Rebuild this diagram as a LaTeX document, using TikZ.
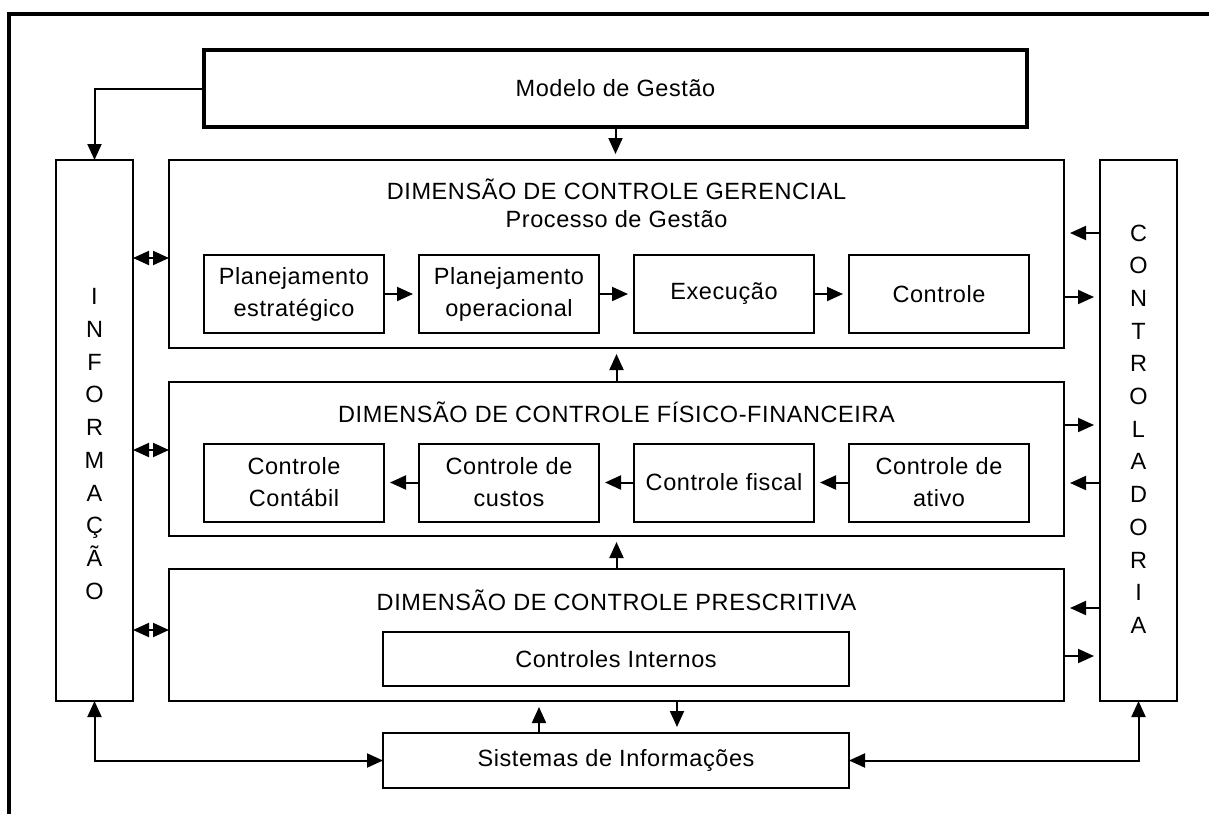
\documentclass[tikz,border=0pt]{standalone}
\usepackage{fontspec}
\setmainfont{Liberation Sans}[LetterSpace=2.5]
\usetikzlibrary{
arrows.meta,
positioning,
calc
}

\begin{document}
\begin{tikzpicture}
[x=1pt, y=-1pt,
font=\fontsize{23.5}{32}\selectfont,
block_normal/.style ={rectangle, draw, line width=2pt, fill=white, align=center, inner sep=0pt, outer sep=0pt},
block_inner/.style ={block_normal, minimum width=180pt, minimum height=78pt},
block_dim/.style ={block_normal, minimum width=895pt},
block_side/.style ={block_normal, minimum width=77pt, minimum height=541pt},
block_top/.style ={block_normal, line width=3.5pt, minimum width=823pt, minimum height=77pt},
block_sys/.style ={block_normal, minimum width=466pt, minimum height=55pt},
text_title/.style ={anchor=base, inner sep=0pt},
text_vertical/.style ={align=center, inner sep=0pt, font=\fontsize{23.5}{32.7}\selectfont},
line_inner/.style ={draw, line width=2pt, -{Triangle[length=16pt,width=14pt]}, shorten >=6pt},
line_outer/.style ={draw, line width=2pt, -{Triangle[length=16pt,width=14pt]}},
line_both/.style ={draw, line width=2pt, {Triangle[length=16pt,width=14pt]}-{Triangle[length=16pt,width=14pt]}}
]
\useasboundingbox (0,0) rectangle (1209,814);

%%%Rahmen%%%
\draw[line width=4pt] (8.7,814) -- (8.7,14) -- (1209,14);

\node[block_top] (modelo) at (615.5,88.5) {Modelo de Gestão};
\node[block_side] (info) at (94.5,430.5) {};
\node[block_side] (contr) at (1138.5,430.5) {};
\node[block_dim, minimum height=188pt] (gerencial) at (616.5,254) {};
\node[block_dim, minimum height=154pt] (fisico) at (616.5,459) {};
\node[block_dim, minimum height=132pt] (prescritiva) at (616.5,635) {};

\node[text_title] (ger_title) at ([yshift=-39.5pt]gerencial.north) {DIMENSÃO DE CONTROLE GERENCIAL};
\node[text_title] (ger_sub) at ([yshift=-67pt]gerencial.north) {Processo de Gestão};
\node[text_title] (fis_title) at ([yshift=-40pt]fisico.north) {DIMENSÃO DE CONTROLE FÍSICO-FINANCEIRA};
\node[text_title] (pre_title) at ([yshift=-41pt]prescritiva.north) {DIMENSÃO DE CONTROLE PRESCRITIVA};

\node[text_vertical] (info_text) at ([yshift=-13.5pt]info.center) {I\\N\\F\\O\\R\\M\\A\\Ç\\Ã\\O};
\node[text_vertical] (contr_text) at ([yshift=1.5pt]contr.center) {C\\O\\N\\T\\R\\O\\L\\A\\D\\O\\R\\I\\A};

% row 1
\node[block_inner] (estrat) at (294,294) {Planejamento\\estratégico};
\node[block_inner, right=35pt of estrat] (operac) {Planejamento\\operacional};
\node[block_inner, right=35pt of operac] (execucao) {Execução};
\node[block_inner, right=35pt of execucao] (controle) {Controle};
% row 2
\node[block_inner] (contabil) at (294,482.5) {Controle\\Contábil};
\node[block_inner, right=35pt of contabil] (custos) {Controle de\\custos};
\node[block_inner, right=35pt of custos] (fiscal) {Controle fiscal};
\node[block_inner, right=35pt of fiscal] (ativo) {Controle de\\ativo};
% row 3
\node[block_sys, minimum height=54pt] (internos) at (616,659) {Controles Internos};
\node[block_sys] (sistemas) at (616,760.5) {Sistemas de Informações};

%%Setas%%%
\draw[line_outer] (modelo.west) -| (info.north);
\draw[line_inner] (modelo.south) -- (modelo.south |- gerencial.north);
\draw[line_inner] (fisico.north) -- (gerencial.south);
\draw[line_inner] (prescritiva.north) -- (fisico.south);

\draw[line_inner] (estrat) -- (operac);
\draw[line_inner] (operac) -- (execucao);
\draw[line_inner] (execucao) -- (controle);
\draw[line_inner] (ativo) -- (fiscal);
\draw[line_inner] (fiscal) -- (custos);
\draw[line_inner] (custos) -- (contabil);

\coordinate (ger_l) at ([yshift=-4pt]gerencial.west);
\coordinate (fis_l) at ([yshift=9pt]fisico.west);
\coordinate (pre_l) at ([yshift=5pt]prescritiva.west);
\draw[line_both] (info.east |- ger_l) -- (ger_l);
\draw[line_both] (info.east |- fis_l) -- (fis_l);
\draw[line_both] (info.east |- pre_l) -- (pre_l);

\coordinate (ger_r1) at ([yshift=21pt]gerencial.east);
\coordinate (ger_r2) at ([yshift=-43pt]gerencial.east);
\coordinate (fis_r1) at ([yshift=34pt]fisico.east);
\coordinate (fis_r2) at ([yshift=-24pt]fisico.east);
\coordinate (pre_r1) at ([yshift=27pt]prescritiva.east);
\coordinate (pre_r2) at ([yshift=-21pt]prescritiva.east);
\draw[line_inner] (contr.west |- ger_r1) -- (ger_r1);
\draw[line_inner] (ger_r2) -- (contr.west |- ger_r2);
\draw[line_inner] (fis_r1) -- (contr.west |- fis_r1);
\draw[line_inner] (contr.west |- fis_r2) -- (fis_r2);
\draw[line_inner] (contr.west |- pre_r1) -- (pre_r1);
\draw[line_inner] (pre_r2) -- (contr.west |- pre_r2);

\coordinate (sis_up) at ([xshift=-77pt]sistemas.north);
\coordinate (sis_dn) at ([xshift=61pt]sistemas.north);
\draw[line_inner] (sis_up) -- (sis_up |- prescritiva.south);
\draw[line_inner] (sis_dn |- prescritiva.south) -- (sis_dn);
\draw[line_both] (info.south) |- (sistemas.west);
\draw[line_both] (sistemas.east) -| (contr.south);

\end{tikzpicture}
\end{document}
